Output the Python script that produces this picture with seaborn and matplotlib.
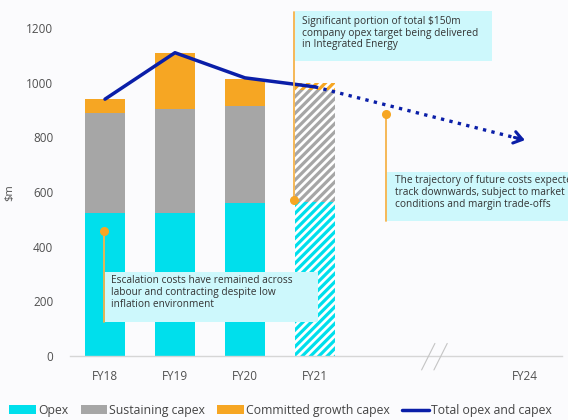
import matplotlib
matplotlib.use("Agg")
import matplotlib.pyplot as plt
import numpy as np
import pandas as pd
import seaborn as sns
from matplotlib.patches import Patch, Rectangle
from matplotlib.lines import Line2D

# ---------------- data ----------------
years = ["FY18", "FY19", "FY20", "FY21"]
opex = [522, 524, 561, 565]
sustaining_capex = [366, 380, 353, 410]
growth_capex = [52, 204, 101, 23]
total_line = [940, 1110, 1018, 985]
projection_years = ["FY21", "FY24"]
projection_values = [985, 790]
xtick_labels = ["FY18", "FY19", "FY20", "FY21", "FY24"]
yticks = [0, 200, 400, 600, 800, 1000, 1200]
legend_labels = ["Opex", "Sustaining capex", "Committed growth capex", "Total opex and capex"]

# ---------------- style ----------------
CYAN = "#00DFEC"
GRAY = "#A6A6A6"
ORANGE = "#F6A623"
NAVY = "#0A1EA8"
BOX = "#CDF8FC"
LEAD = "#F5B24A"
BG = "#FBFBFD"

sns.set_theme(style="white")
plt.rcParams["font.family"] = ["Open Sans", "DejaVu Sans"]
plt.rcParams["hatch.linewidth"] = 2.3

slots = ["FY18", "FY19", "FY20", "FY21", "gap_a", "gap_b", "FY24"]
pos = {s: i for i, s in enumerate(slots)}

df = pd.DataFrame({"year": years, "opex": opex,
                   "sust": sustaining_capex, "growth": growth_capex})
df["lvl2"] = df["opex"] + df["sust"]
df["lvl3"] = df["lvl2"] + df["growth"]

fig = plt.figure(figsize=(5.68, 4.2), dpi=100, facecolor=BG)
ax = fig.add_axes([70 / 568, 64 / 420, 492 / 568, 344 / 420])
ax.set_facecolor("none")

for col, c in [("lvl3", ORANGE), ("lvl2", GRAY), ("opex", CYAN)]:
    sns.barplot(data=df, x="year", y=col, order=slots, color=c, width=0.56,
                saturation=1, errorbar=None, linewidth=0, ax=ax)

# hatch the FY21 (forecast) bars
for cont in ax.containers:
    for p in cont.patches:
        cx = p.get_x() + p.get_width() / 2
        if abs(cx - pos["FY21"]) < 0.1:
            col = p.get_facecolor()
            p.set_facecolor("white")
            p.set_edgecolor(col)
            p.set_hatch("////")
            p.set_linewidth(0)

# total line
sns.lineplot(x=[pos[y] for y in years], y=total_line, color=NAVY, lw=2.5,
             ax=ax, zorder=5)
sns.lineplot(x=[pos[y] for y in projection_years], y=projection_values,
             color=NAVY, lw=2.4, ax=ax, zorder=5, linestyle=(0, (1, 1.6)))
ax.annotate("", xy=(pos["FY24"], projection_values[1]),
            xytext=(pos["FY24"] - 0.15, projection_values[1] + 10),
            arrowprops=dict(arrowstyle="->,head_length=0.5,head_width=0.35",
                            color=NAVY, lw=2.2, mutation_scale=12,
                            shrinkA=0, shrinkB=0), zorder=6)

# axes formatting
ax.set_xlim(-0.5, 6.53)
ax.set_ylim(0, 1259)
ax.set_xticks([pos[l] for l in xtick_labels])
ax.set_xticklabels(xtick_labels)
ax.set_yticks(yticks)
ax.tick_params(length=0, labelsize=8.5, labelcolor="#505050")
ax.tick_params(axis="x", pad=10)
ax.tick_params(axis="y", pad=12)
for s in ["top", "right", "left"]:
    ax.spines[s].set_visible(False)
ax.spines["bottom"].set_color("#D6D6D6")
ax.spines["bottom"].set_linewidth(1)
ax.set_xlabel("")
ax.set_ylabel(r"\$m", fontsize=8, color="#505050")
ax.yaxis.set_label_coords(-0.112, 0.474)
ax.grid(False)

# axis break marks
for x0 in [4.524, 4.70]:
    ax.plot([x0, x0 + 0.19], [-51, 46], color="#C4C4C4", lw=0.8,
            clip_on=False, zorder=6)

# annotations
txtkw = dict(fontsize=7.3, color="#333333", linespacing=1.12, va="top",
             ha="left", zorder=9)
# top box
ax.add_patch(Rectangle((2.71, 1079), 2.82, 184, facecolor=BOX, lw=0,
                       zorder=7, clip_on=False))
ax.plot([2.707, 2.707], [571, 1259], color=LEAD, lw=1.3, zorder=8, clip_on=False)
ax.plot([2.707], [571], "o", color=ORANGE, ms=5.5, zorder=8, clip_on=False)
ax.text(2.814, 1246, "Significant portion of total \\$150m\ncompany opex target being delivered\nin Integrated Energy", **txtkw)

# right box
ax.add_patch(Rectangle((4.03, 494), 3.2, 179, facecolor=BOX, lw=0,
                       zorder=7, clip_on=False))
ax.plot([4.014, 4.014], [494, 885], color=LEAD, lw=1.3, zorder=8, clip_on=False)
ax.plot([4.014], [885], "o", color=ORANGE, ms=5.5, zorder=8, clip_on=False)
ax.text(4.14, 662, "The trajectory of future costs expected to\ntrack downwards, subject to market\nconditions and margin trade-offs", **txtkw)

# bottom box
ax.add_patch(Rectangle((0.0, 124), 3.04, 183, facecolor=BOX, lw=0,
                       zorder=7, clip_on=False))
ax.plot([-0.014, -0.014], [124, 457], color=LEAD, lw=1.3, zorder=8, clip_on=False)
ax.plot([-0.014], [457], "o", color=ORANGE, ms=5.5, zorder=8, clip_on=False)
ax.text(0.086, 295, "Escalation costs have remained across\nlabour and contracting despite low\ninflation environment", **txtkw)

# legend
handles = [Patch(facecolor=CYAN, lw=0), Patch(facecolor=GRAY, lw=0),
           Patch(facecolor=ORANGE, lw=0), Line2D([0], [0], color=NAVY, lw=2.5)]
leg = fig.legend(handles, legend_labels, loc="lower left",
                 bbox_to_anchor=(0.008, -0.004), ncol=4, frameon=False,
                 fontsize=8.8, handlelength=2.2, handleheight=0.65,
                 handletextpad=0.15, columnspacing=1.0, borderaxespad=0)
for t in leg.get_texts():
    t.set_color("#444444")

fig.savefig("out.png", dpi=100, facecolor=BG)
